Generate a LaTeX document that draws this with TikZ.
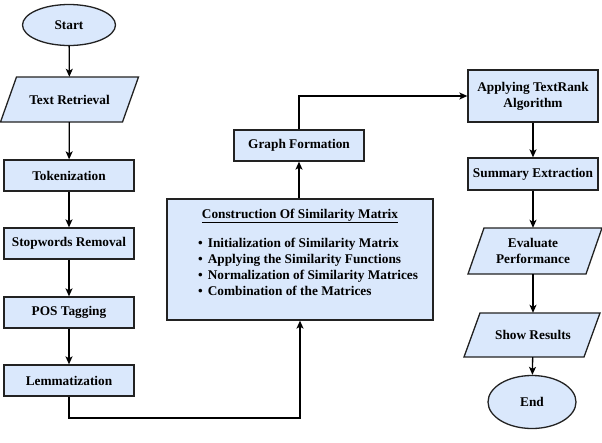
\documentclass[tikz,border=0pt]{standalone}
\usepackage{fontspec}
\setmainfont{Liberation Serif}[BoldFont={Liberation Serif Bold}]
\newfontfamily\tnrfont{Liberation Serif}[BoldFont={Liberation Serif Bold}]
\usetikzlibrary{arrows.meta,shapes.geometric}
\definecolor{boxfill}{HTML}{DAE8FC}
\definecolor{boxline}{HTML}{222222}
\newcommand\mypara[6]{%
  \draw[shapeline] (#2-#4+#6/2,#3-#5) -- (#2+#4+#6/2,#3-#5) -- (#2+#4-#6/2,#3+#5) -- (#2-#4-#6/2,#3+#5) -- cycle;
}
\begin{document}
\begin{tikzpicture}[x=1pt,y=-1pt,
  shapeline/.style={draw=boxline,fill=boxfill,line width=1.3pt},
  txt/.style={font=\tnrfont\fontsize{13.3}{16}\selectfont\bfseries,align=center,inner sep=0pt},
  procbox/.style={shapeline,txt,rectangle,minimum width=130pt,minimum height=31pt},
  termin/.style={shapeline,txt,ellipse,inner sep=0pt},
  paratext/.style={txt,rectangle,minimum width=100pt},
  arr/.style={draw=black,line width=1.3pt,-{Stealth[length=8pt,width=7pt,inset=2pt]}},
  bullet/.style={font=\tnrfont\fontsize{13.3}{16}\selectfont\bfseries,anchor=base west,inner sep=0pt}
]
\useasboundingbox (0,0) rectangle (602,442);

% left column
\node[termin,minimum width=93pt,minimum height=41pt] (start) at (69,25) {Start};
\mypara{textret}{69.5}{99.5}{61}{22.5}{16}
\node[paratext,minimum height=45pt] (textret) at (69.5,99.5) {Text Retrieval};
\node[procbox] (token) at (69,175.5) {Tokenization};
\node[procbox] (stop) at (69,243.5) {Stopwords Removal};
\node[procbox] (pos) at (69,312.5) {POS Tagging};
\node[procbox] (lemma) at (69,380.5) {Lemmatization};

% middle column
\node[shapeline,rectangle,minimum width=266pt,minimum height=121pt] (cons) at (300,259.5) {};
\node[txt,anchor=base] (constitle) at (300,218) {\underline{Construction Of Similarity Matrix}};
\node[bullet] (b1) at (198,247.5) {\textbullet\hspace{5pt}Initialization of Similarity Matrix};
\node[bullet] (b2) at (198,263.5) {\textbullet\hspace{5pt}Applying the Similarity Functions};
\node[bullet] (b3) at (198,279.5) {\textbullet\hspace{5pt}Normalization of Similarity Matrices};
\node[bullet] (b4) at (198,295.5) {\textbullet\hspace{5pt}Combination of the Matrices};
\node[procbox] (graph) at (299,145.5) {Graph Formation};

% right column
\node[procbox,minimum height=52pt] (appl) at (533,96) {Applying TextRank\\Algorithm};
\node[procbox,minimum height=32pt] (summ) at (533,174) {Summary Extraction};
\mypara{eval}{535}{251}{59}{23}{16}
\node[paratext,minimum height=46pt] (eval) at (533,251) {Evaluate\\Performance};
\mypara{show}{532}{335}{60}{22}{16}
\node[paratext,minimum height=44pt] (show) at (533,335) {Show Results};
\node[termin,minimum width=88pt,minimum height=53pt] (end) at (532,402) {End};

% connectors
\draw[arr] (start) -- (textret);
\draw[arr] (textret) -- (token);
\draw[arr] (token) -- (stop);
\draw[arr] (stop) -- (pos);
\draw[arr] (pos) -- (lemma);
\coordinate (c1) at (300,418);
\draw[arr] (lemma.south) |- (c1) -- (cons.south);
\draw[arr] (cons.north -| graph.south) -- (graph.south);
\draw[arr] (graph.north) |- (appl.west);
\draw[arr] (appl) -- (summ);
\draw[arr] (summ) -- (eval);
\draw[arr] (eval) -- (show);
\draw[arr] (show) -- (end);
\end{tikzpicture}
\end{document}
